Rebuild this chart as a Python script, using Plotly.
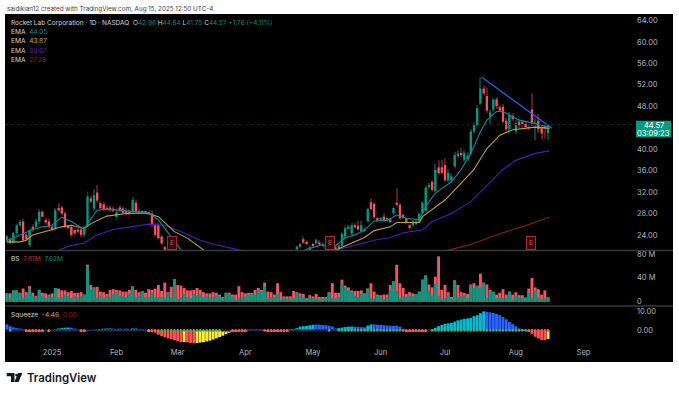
import plotly.graph_objects as go

# ---------- candles (bars 50-89 lie below the visible price range) ----------
candle_idx = list(range(50)) + list(range(90, 169))
candle_open = [22.9,23.2,22.5,24.3,25.8,26.5,24.0,22.1,25.5,25.5,26.5,28.3,26.8,26.5,25.5,25.2,29.0,29.1,28.0,25.6,
 25.5,24.9,25.0,25.0,24.0,25.8,30.8,28.9,31.9,29.9,29.7,29.0,29.1,28.9,27.3,29.1,28.9,28.5,28.3,28.3,
 30.0,28.2,28.3,28.3,28.2,28.0,25.8,25.8,23.7,21.7,
 21.3,21.8,23.2,22.7,21.2,22.3,22.4,22.6,22.0,21.7,22.0,21.7,21.7,21.3,22.0,23.7,25.2,24.2,25.8,25.7,
 24.7,24.8,26.6,30.1,29.8,27.1,26.9,27.4,26.8,26.9,28.0,30.0,29.6,27.7,27.0,25.8,25.8,26.0,26.5,28.1,
 28.5,32.9,33.9,32.2,36.6,36.6,37.0,34.2,34.2,36.8,38.7,39.2,38.0,38.2,39.2,43.3,44.5,48.5,51.3,49.9,
 46.1,47.4,49.3,47.8,47.9,45.3,43.7,46.2,43.3,45.1,45.1,44.7,44.1,47.4,44.5,45.3,43.9,44.2,42.98]
candle_high = [24.0,23.5,24.6,26.1,26.8,27.0,24.4,25.2,26.0,27.0,28.8,28.6,27.2,27.0,25.9,29.0,30.0,29.5,28.3,25.9,
 25.9,25.2,25.4,25.3,25.7,32.1,31.3,32.5,33.3,30.3,30.2,29.4,29.5,29.3,28.9,29.5,29.3,29.0,28.7,31.0,
 30.6,28.8,28.6,28.6,28.5,28.6,26.1,26.2,24.0,22.0,
 22.0,22.5,23.7,23.0,22.0,22.5,23.3,23.0,22.6,22.3,22.2,21.9,21.9,22.2,24.5,25.6,25.9,26.2,26.2,26.6,
 26.6,25.3,29.1,30.8,30.1,27.4,27.3,28.0,27.3,27.2,29.4,32.7,30.0,28.0,27.3,26.0,26.8,26.8,28.2,30.3,
 33.2,33.7,34.3,37.3,37.9,38.0,38.3,36.3,35.5,39.5,39.8,40.2,39.8,39.4,43.7,45.0,48.2,53.4,51.8,51.5,
 47.4,49.6,49.7,48.2,48.4,45.8,46.9,46.7,45.5,45.7,45.4,45.1,44.6,50.4,45.8,46.5,44.5,44.6,44.64]
candle_low = [22.6,22.3,22.3,24.0,25.5,22.8,23.0,21.8,24.5,25.2,26.0,27.2,26.0,25.2,24.7,24.8,28.2,27.7,25.2,25.0,
 23.5,23.9,24.3,23.6,23.6,25.5,29.9,28.5,30.0,28.7,28.4,28.5,28.3,28.2,26.8,28.2,27.8,27.6,27.7,27.8,
 27.9,27.9,27.9,27.9,27.8,25.5,23.7,23.1,22.1,20.8,
 21.0,21.6,22.3,22.1,21.0,21.8,22.2,22.0,21.8,21.5,21.2,20.9,20.9,21.1,21.8,23.4,25.0,24.0,25.2,24.8,
 24.4,24.5,26.3,28.5,27.0,26.3,26.5,26.4,26.5,26.2,27.7,29.3,26.8,27.0,26.0,25.0,25.5,25.8,26.2,27.8,
 28.2,32.6,32.1,31.9,35.2,35.3,33.9,33.8,34.0,36.4,38.3,38.5,37.7,37.8,38.9,42.9,44.2,48.3,50.0,46.8,
 44.6,47.0,47.5,47.0,44.8,43.3,43.0,45.2,42.8,43.9,44.0,43.7,43.5,44.3,41.6,43.0,41.8,42.0,41.75]
candle_close = [23.7,22.5,24.3,25.8,26.4,23.0,23.2,24.9,24.9,26.5,28.3,27.4,26.3,25.5,25.0,28.6,28.6,28.0,25.5,25.3,
 24.0,24.3,24.6,24.0,25.4,31.2,30.2,31.4,30.4,29.0,28.8,28.8,28.6,28.5,28.3,28.5,28.1,27.9,28.0,30.5,
 28.3,28.5,28.1,28.1,28.0,25.8,24.0,23.4,22.4,21.2,
 21.8,22.3,22.6,22.3,21.7,22.0,23.0,22.2,22.3,22.0,21.5,21.2,21.2,22.0,24.2,25.2,25.5,25.8,25.4,25.0,
 25.8,25.0,28.8,28.8,27.3,26.7,27.0,26.7,27.0,26.4,29.0,29.6,27.1,27.2,26.4,25.3,26.5,26.5,27.9,30.0,
 32.8,33.3,32.4,36.1,35.5,35.6,34.2,35.6,34.9,38.9,39.2,38.9,39.3,38.8,43.3,44.5,47.6,51.3,50.4,47.2,
 46.8,49.2,48.0,47.2,45.1,43.7,46.4,45.6,44.8,44.5,44.7,44.1,44.0,44.8,44.9,43.7,42.9,44.1,44.57]

# ---------- EMAs (off-scale stretches lie below the pane) ----------
ema10_idx = [0,2,8,11,14,17,20,24,25,28,31,35,39,44,47,51,54,60,85,90,93,98,101,105,108,111,114,118,121,124,128,130,133,138,141,144,147,149,152,154,156,159,164,168.4]
ema10_val = [23.0,23.4,25.0,25.5,25.8,27.3,26.5,25.0,26.1,28.6,28.8,28.6,28.3,28.1,26.8,23.7,21.2,19.5,19.5,20.5,21.3,22.2,21.5,23.4,24.0,24.9,26.6,26.7,27.7,27.1,26.8,29.3,31.8,33.9,36.2,39.2,43.25,45.4,47.0,47.0,46.4,45.4,44.8,44.05]
ema20_idx = [0,4,6,8,13,17,20,24,26,31,37,43,47,52,56,61,66,98,103,107,111,114,119,121,128,129,136,140,145,149,153,157,164,168.4]
ema20_val = [22.7,22.7,23.0,24.0,24.8,25.5,25.8,25.2,26.1,27.5,28.0,28.1,27.4,24.6,23.4,21.2,19.5,19.5,21.4,22.4,23.5,24.8,25.5,26.3,26.3,27.4,30.5,33.0,36.2,40.1,42.6,43.6,44.1,43.87]
ema50_idx = [10,16,19,24,28,33,39,44,49,54,60,65,72,80,96,103,109,114,119,123,129,132,138,144,154,158,164,168.4]
ema50_val = [19.5,21.2,21.9,22.5,24.0,25.0,25.5,26.0,25.8,24.6,23.0,22.1,21.2,20.2,20.2,21.3,22.3,23.0,23.5,24.4,24.9,26.5,28.0,30.2,36.2,37.9,39.2,39.67]
ema200_idx = [130,138,144,153,160,168.4]
ema200_val = [20.3,21.3,22.2,24.2,25.5,27.29]

# ---------- trend line ----------
trend_idx = [147.4, 169.2]
trend_val = [53.4, 43.9]

# ---------- volume (millions): red behind, green in front ----------
vol_red = [14,14,19,19,15,22,16,26,15,10,20,15,14,12,14,23,22,19,19,16,18,15,15,16,12,62,28,24,25,17,16,13,20,21,20,19,17,17,20,26,
 20,16,18,15,21,20,22,28,18,32,16,25,38,28,27,23,19,19,20,23,20,16,14,14,16,15,12,8,15,15,12,12,26,16,14,15,15,20,23,20,
 32,17,16,12,31,16,9,9,9,18,16,14,13,6,11,9,13,8,8,8,16,31,15,15,37,27,24,19,18,18,19,14,22,31,17,12,11,12,12,28,
 34,62,31,23,13,16,14,13,17,37,44,29,24,42,76,20,28,16,8,36,28,16,15,13,29,31,27,47,32,29,20,16,12,15,21,12,17,12,16,11,
 11,7,22,40,24,21,12,19,7.81]
vol_green = [14,7,19,19,15,7,12,22,10,8,20,10,6,10,8,23,7,8,12,10,6,9,7,9,12,59,20,24,7,10,6,9,8,13,16,10,9,7,14,25,
 8,10,18,8,8,15,8,8,8,6,16,7,38,5,8,13,8,6,13,10,12,8,10,7,8,10,9,6,15,12,9,4,6,8,9,12,13,12,19,17,
 26,6,8,8,13,4,6,5,6,5,14,10,8,5,8,6,5,5,5,6,15,6,6,8,31,24,19,16,10,7,14,13,22,6,5,10,8,5,8,19,
 34,18,6,9,8,10,9,13,17,37,44,18,10,30,10,5,6,12,5,35,7,9,11,6,28,23,26,24,32,6,17,17,6,7,6,6,17,4,10,7,
 6,7,16,6,19,7,5,6,7.62]

# ---------- squeeze momentum ----------
squeeze_val = [3.2,2.2,1.6,1.2,1.0,0.6,-0.5,-0.7,-0.7,-0.8,-0.7,-0.6,0.2,-0.5,-0.3,0.5,1,1.2,1.4,1.5,1.4,1,0.6,-0.5,-0.6,-0.2,-0.1,0.1,
 0.3,0.7,0.9,1,1,0.9,0.8,0.9,0.8,0.9,0.8,1,1,0.8,0.5,0.2,-0.5,-0.8,-1.2,-2.2,-3,-3.6,-4.2,-4.7,-5.1,-5.6,-6.3,-6.1,-6.3,-6.6,-6.8,
 -6.6,-6.4,-6.2,-5.8,-5.4,-4.8,-4.2,-3.5,-2.8,-2,-1.2,-0.4,-0.5,-0.5,-0.6,-0.5,0.6,0.8,0.7,0.6,0.4,-0.3,-0.5,-0.6,-0.6,-0.5,-0.4,-0.6,-0.5,
 0.5,0.8,1.2,2,2.2,2.4,2.7,3,3.1,3,2.8,2.7,2.4,2,1,1.2,1.5,1.8,2,2,1.9,1.8,1.7,1.6,2.5,3.1,3.2,3,2.9,2.7,2.6,2.5,2.3,2.5,2,0.8,
 -0.4,-0.6,-0.6,-0.6,-0.7,-0.6,-0.5,0.2,0.5,1.4,2.2,2.9,3.5,3.7,4,4.6,5.3,5.7,6.1,6.3,6.6,7.5,8,9,10,
 9.8,9.5,9.2,8.7,8,7,5.8,4.5,3.3,2.2,1,0.5,0.2,-0.8,-1.8,-3.3,-4.2,-5,-5.2,-4.46]
squeeze_state_runs = [("b",6),("r",6),("b",1),("r",2),("c",5),("b",3),("r",2),("b",3),("c",5),("b",2),("c",1),("b",1),("c",1),("b",1),("c",2),("b",3),
 ("r",11),("y",1),("r",3),("y",11),("r",5),("b",5),("r",8),("c",8),("b",7),("c",5),("b",4),("c",2),("b",10),("r",7),("b",1),("c",17),("b",13),("r",6),("y",1)]
squeeze_dot_runs = [("d",1),("g",1),("d",4),("r",6),("d",1),("r",1),("d",9),("r",2),("d",19),("o",1),("r",3),("g",19),("d",3),("r",5),("d",5),("r",8),
 ("d",12),("g",1),("d",2),("g",20),("r",8),("d",1),("g",30),("r",7)]

# ---------- labels ----------
month_idx = [14,34,53,74,95,116,136,158,179]
month_labels = ["2025","Feb","Mar","Apr","May","Jun","Jul","Aug","Sep"]
price_ticks = [64,60,56,52,48,40,36,32,28,24]
vol_ticks = [0,40,80]
vol_tick_labels = ["0","40 M","80 M"]
squeeze_ticks = [0,10]
earnings_idx = [51.2,100.3,162.7]
last_price = 44.57

UP, DOWN = "#089981", "#f7525f"
WICK_UP, WICK_DOWN = "#0a4038", "#5c1a24"
AX = "#b2b5be"
FONT = "Inter, Roboto, sans-serif"
STATE = {"b":"#2962ff","r":"#ff5252","c":"#00bcd4","y":"#ffeb3b"}
DOT = {"d":"#1c2440","g":"#4caf50","r":"#ff5252","o":"#ff9800"}

def expand(runs, table):
    out = []
    for code, n in runs:
        out += [table[code]] * n
    return out

# pixel helpers for page furniture
L, R, T, B = 5, 636, 14, 346
px = lambda x: (x - L) / (R - L)
py = lambda y: (B - y) / (B - T)

is_up = [c >= o for o, c in zip(candle_open, candle_close)]
fig = go.Figure()
fig.add_trace(go.Bar(x=candle_idx, base=candle_low, y=[h-l for h,l in zip(candle_high,candle_low)], width=0.3,
                     marker=dict(color=[WICK_UP if u else WICK_DOWN for u in is_up], line_width=0), yaxis="y"))
fig.add_trace(go.Bar(x=candle_idx, base=[min(o,c) for o,c in zip(candle_open,candle_close)],
                     y=[max(abs(c-o),0.06) for o,c in zip(candle_open,candle_close)], width=0.72,
                     marker=dict(color=[UP if u else DOWN for u in is_up], line_width=0), yaxis="y"))
for xs, ys, col in [(ema200_idx,ema200_val,"#8c1c2c"),(ema50_idx,ema50_val,"#4a1fb8"),(ema20_idx,ema20_val,"#b8a63a"),(ema10_idx,ema10_val,"#0e8a9a")]:
    fig.add_trace(go.Scatter(x=xs, y=ys, mode="lines", line=dict(color=col, width=1.1), yaxis="y"))
fig.add_trace(go.Scatter(x=trend_idx, y=trend_val, mode="lines", line=dict(color="#2962ff", width=1.2), yaxis="y"))

bar_x = list(range(len(vol_red)))
fig.add_trace(go.Bar(x=bar_x, y=vol_red, width=0.9, marker=dict(color=DOWN, line_width=0), yaxis="y2"))
fig.add_trace(go.Bar(x=bar_x, y=vol_green, width=0.9, marker=dict(color=UP, line_width=0), yaxis="y2"))

fig.add_trace(go.Bar(x=bar_x, y=squeeze_val, width=0.9, marker=dict(color=expand(squeeze_state_runs,STATE), line_width=0), yaxis="y3"))
fig.add_trace(go.Scatter(x=bar_x, y=[0]*len(bar_x), mode="markers",
                         marker=dict(size=2.6, color=expand(squeeze_dot_runs,DOT), line_width=0), yaxis="y3"))

tick = dict(color=AX, size=7.5, family=FONT)
def yax(domain, rng, vals, text):
    return dict(domain=domain, range=rng, side="right", anchor="x", showgrid=False, zeroline=False, showline=False,
                ticks="", tickvals=vals, ticktext=text, tickfont=tick, fixedrange=True)

def note(x, y, text, size=7, color="#d6d6d6", anchor="left", weight="normal"):
    return dict(xref="paper", yref="paper", x=px(x), y=py(y), text=text, showarrow=False, xanchor=anchor, yanchor="middle",
                font=dict(family=FONT, size=size, color=color, weight=weight))

def span(t, c):
    return f'<span style="color:{c}">{t}</span>'

G = "#0b8f7a"
annotations = [
    note(5, 8.5, "saidikian12 created with TradingView.com, Aug 15, 2025 12:50 UTC-4", size=6.3, color="#3b3b3b"),
    note(9, 23, "Rocket Lab Corporation · 1D · NASDAQ  O"+span("42.98",G)+" H"+span("44.64",G)+" L"+span("41.75",G)+" C"+span("44.57",G)+" "+span("+1.76 (+4.11%)",G), size=6.5),
    note(9, 32, "EMA  "+span("44.05","#0e8a9a"), size=6.6),
    note(9, 41.2, "EMA  "+span("43.87","#c9b12e"), size=6.6),
    note(9, 50.5, "EMA  "+span("39.67","#4a1fb8"), size=6.6),
    note(9, 59.7, "EMA  "+span("27.29","#a3142a"), size=6.6),
    note(9, 258.7, "BS  "+span("7.81M","#c4303c")+"  "+span("7.62M","#0b8f7a"), size=6.6),
    note(9, 315.3, "Squeeze  "+span("-4.46","#c9b12e")+"  "+span("0.00","#8c1c2c"), size=6.6),
    note(653.5, 125, "44.57", size=7.5, color="#ffffff", anchor="center"),
    note(653.5, 133, "03:09:23", size=7.5, color="#ffffff", anchor="center"),
    note(25, 378, "TradingView", size=11.4, color="#131722", weight=600),
]
for i in earnings_idx:
    annotations.append(dict(xref="x", yref="y", x=i, y=22.5, text="E", showarrow=False, font=dict(family=FONT, size=6.5, color="#e0444f"),
                            bordercolor="#a72a35", borderwidth=1, borderpad=2, bgcolor="#2e0a0e"))

shapes = [
    dict(type="rect", xref="paper", yref="paper", x0=px(5), x1=px(673), y0=py(362), y1=py(14), fillcolor="#000000", line_width=0, layer="below"),
    dict(type="line", xref="paper", yref="paper", x0=px(5), x1=px(673), y0=py(250.5), y1=py(250.5), line=dict(color="#3a3a3a", width=1.5)),
    dict(type="line", xref="paper", yref="paper", x0=px(5), x1=px(673), y0=py(306), y1=py(306), line=dict(color="#3a3a3a", width=1.5)),
    dict(type="line", xref="paper", yref="y", x0=0, x1=1, y0=last_price, y1=last_price, line=dict(color="#0a2a26", width=1, dash="dot")),
    dict(type="rect", xref="paper", yref="paper", x0=px(636), x1=px(671), y0=py(137.3), y1=py(120.7), fillcolor=UP, line_width=0),
    dict(type="path", xref="paper", yref="paper", fillcolor="#131722", line_width=0,
         path=f"M{px(6.7)},{py(373)} L{px(14.5)},{py(373)} L{px(14.5)},{py(382)} L{px(11)},{py(382)} L{px(11)},{py(376.3)} L{px(6.7)},{py(376.3)} Z"),
    dict(type="circle", xref="paper", yref="paper", fillcolor="#131722", line_width=0, x0=px(15.2), x1=px(17.6), y0=py(376.2), y1=py(373.8)),
    dict(type="path", xref="paper", yref="paper", fillcolor="#131722", line_width=0,
         path=f"M{px(18)},{py(373)} L{px(22.4)},{py(373)} L{px(18.6)},{py(382)} L{px(14.4)},{py(382)} Z"),
]

fig.update_layout(
    width=679, height=394, margin=dict(l=L, r=679-R, t=T, b=394-B), paper_bgcolor="#ffffff", plot_bgcolor="#000000",
    showlegend=False, barmode="overlay", hovermode=False, font=dict(family=FONT),
    xaxis=dict(domain=[0,1], range=[-0.62,195.3], anchor="y3", showgrid=False, zeroline=False, showline=False, ticks="",
               tickvals=month_idx, ticktext=month_labels, tickfont=tick, fixedrange=True),
    yaxis=yax([(B-250)/(B-T),1],[21.18,65.2],price_ticks,[f"{v:.2f}" for v in price_ticks]),
    yaxis2=yax([(B-305)/(B-T),(B-251)/(B-T)],[-5.5,85],vol_ticks,vol_tick_labels),
    yaxis3=yax([0,(B-307)/(B-T)],[-8.2,12.3],squeeze_ticks,["0.00","10.00"]),
    annotations=annotations, shapes=shapes,
)
fig.write_html("out.html", post_script="document.body.style.margin='0';", config={"displayModeBar": False})
